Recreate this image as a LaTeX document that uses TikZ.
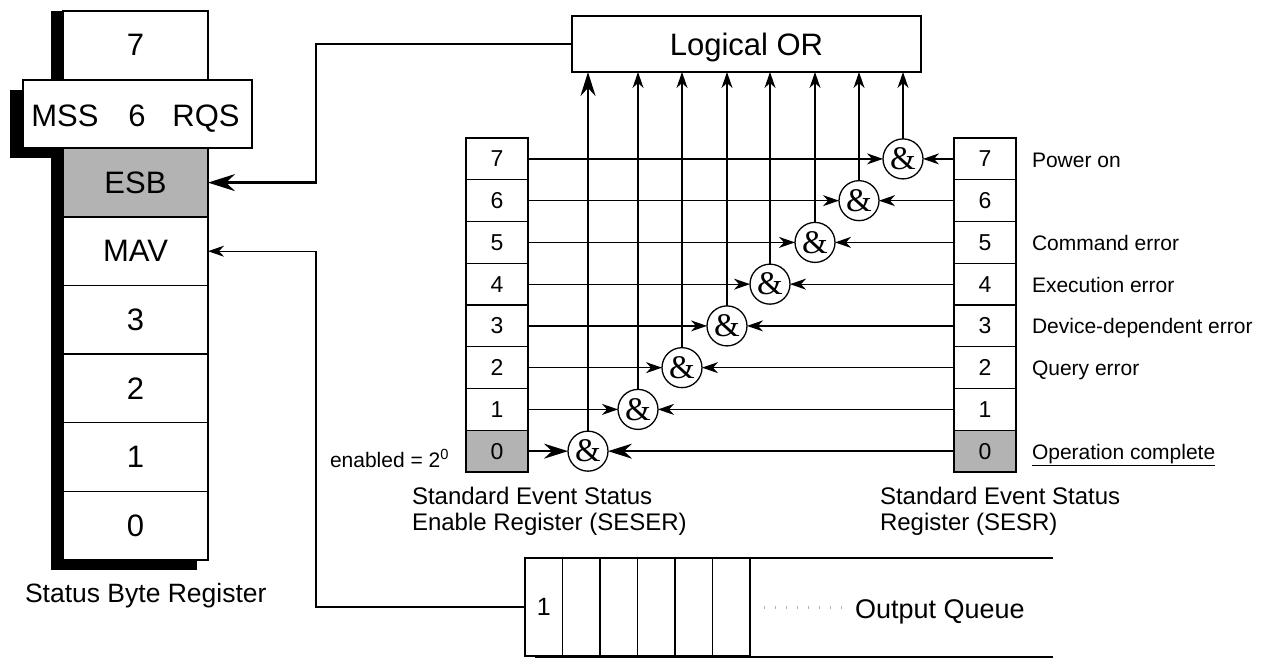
\documentclass[tikz,border=0pt]{standalone}
\usepackage{fontspec}
\setmainfont{Liberation Sans}
\newfontfamily\ampfont{Liberation Serif}
\usetikzlibrary{arrows.meta}
\definecolor{regGray}{RGB}{179,179,179}
\tikzset{
 every node/.style={inner sep=0pt, outer sep=0pt},
 thinl/.style={line width=1.3pt},
 thickl/.style={line width=2.6pt},
 sbcell/.style={draw, thinl, fill=white, minimum width=145pt, minimum height=68.6pt, font=\fontsize{31}{31}\selectfont},
 regcell/.style={draw, thinl, fill=white, minimum width=62pt, minimum height=41.75pt, font=\fontsize{23}{23}\selectfont},
 gate/.style={circle, draw, thinl, fill=white, minimum size=40pt, font=\ampfont\fontsize{33}{33}\selectfont},
 arr/.style={-{Stealth[length=16pt,width=11pt,inset=5pt]}},
 bigarr/.style={-{Stealth[length=24pt,width=15pt,inset=8pt]}},
 esbarr/.style={-{Stealth[length=27pt,width=17pt,inset=9pt]}},
 lbl/.style={anchor=base west, font=\fontsize{21}{21}\selectfont},
 capt/.style={anchor=base west, font=\fontsize{24}{24}\selectfont},
 qcell/.style={draw, thinl, minimum width=37.5pt, minimum height=98pt, font=\fontsize{25}{25}\selectfont}
}
\begin{document}
\begin{tikzpicture}[x=1pt,y=-1pt]
\useasboundingbox (0,0) rectangle (1273,659);

% ---------- Status Byte Register ----------
\fill[black] (51,11) rectangle (63,570);
\fill[black] (51,560) rectangle (197,570);
\fill[black] (10,90) rectangle (63,158);
\node[sbcell] (sb7) at (135.5,45.3) {7};
\node[sbcell, fill=regGray] (sbesb) at (135.5,182.6) {ESB};
\node[sbcell] (sbmav) at (135.5,251.2) {MAV};
\node[sbcell] (sb3) at (135.5,319.8) {3};
\node[sbcell] (sb2) at (135.5,388.4) {2};
\node[sbcell] (sb1) at (135.5,457.1) {1};
\node[sbcell] (sb0) at (135.5,525.7) {0};
\node[draw, line width=2.4pt, fill=white, minimum width=229pt, minimum height=68pt] (mss) at (137.5,114) {};
\node[anchor=base, font=\fontsize{31}{31}\selectfont] (msst) at (65,126) {MSS};
\node[anchor=base, font=\fontsize{31}{31}\selectfont] (sixt) at (137,126) {6};
\node[anchor=base, font=\fontsize{31}{31}\selectfont] (rqst) at (206,126) {RQS};
\node[capt, font=\fontsize{26.5}{26.5}\selectfont] (sbrlabel) at (25,602) {Status Byte Register};

% ---------- Logical OR ----------
\node[draw, line width=1.5pt, minimum width=349pt, minimum height=56pt, text depth=0pt, font=\fontsize{31}{31}\selectfont] (lor) at (746.5,44) {Logical OR};

% ---------- registers and gates ----------
\foreach \k/\x in {0/588,1/638,2/682,3/727,4/770,5/815,6/859,7/903}{
  \pgfmathsetmacro{\yy}{158.9+(7-\k)*41.75}
  \node[regcell] (e\k) at (497,\yy) {\k};
  \node[regcell] (s\k) at (985,\yy) {\k};
  \node[gate] (g\k) at (\x,\yy) {\&};
}
\node[regcell, fill=regGray] at (e0) {0};
\node[regcell, fill=regGray] at (s0) {0};
\draw[thickl] (e7.north west) rectangle (e0.south east);
\draw[thickl] (s7.north west) rectangle (s0.south east);

\foreach \k in {1,...,7}{
  \draw[thinl, arr] (e\k.east) -- (g\k.west);
  \draw[thinl, arr] (s\k.west) -- (g\k.east);
  \draw[thinl, arr] (g\k.north) -- (g\k.north |- lor.south);
}
\draw[thickl, bigarr] (e0.east) -- (g0.west);
\draw[thickl, bigarr] (s0.west) -- (g0.east);
\draw[thickl, bigarr] (g0.north) -- (g0.north |- lor.south);

% ---------- labels ----------
\node[lbl] (l7) at (1032,167) {Power on};
\node[lbl] (l5) at (1032,250.4) {Command error};
\node[lbl] (l4) at (1032,292.1) {Execution error};
\node[lbl] (l3) at (1032,333.9) {Device-dependent error};
\node[lbl] (l2) at (1032,375.6) {Query error};
\node[lbl] (l0) at (1032,459.1) {\underline{Operation complete}};
\node[lbl] (en) at (330,467) {enabled = 2\textsuperscript{0}};

\node[capt] (c1a) at (412,504) {Standard Event Status};
\node[capt] (c1b) at (412,530) {Enable Register (SESER)};
\node[capt] (c2a) at (880,504) {Standard Event Status};
\node[capt] (c2b) at (880,530) {Register (SESR)};

% ---------- Output queue ----------
\foreach \i in {1,...,6}{
  \node[qcell] (oq\i) at ({525+(\i-0.5)*37.5},607) {};
}
\node[anchor=center, font=\fontsize{25}{25}\selectfont] (one) at (oq1) {1};
\coordinate (qend) at (1053,607);
\draw[thinl] (oq6.north east) -- (oq6.north east -| qend);
\draw[thickl] (535,657) -- (1053,657);
\draw[gray!60, line width=3pt, dash pattern=on 0.8pt off 10.2pt] (764,607) -- (842,607);
\node[capt, font=\fontsize{27}{27}\selectfont] (oqt) at (855,618) {Output Queue};

% ---------- connections to status byte ----------
\coordinate (bend) at (316,44);
\draw[thickl, esbarr] (lor.west) -| (bend |- sbesb.east) -- (sbesb.east);
\draw[thinl, arr] (oq1.west) -| (bend |- sbmav.east) -- (sbmav.east);
\end{tikzpicture}
\end{document}
